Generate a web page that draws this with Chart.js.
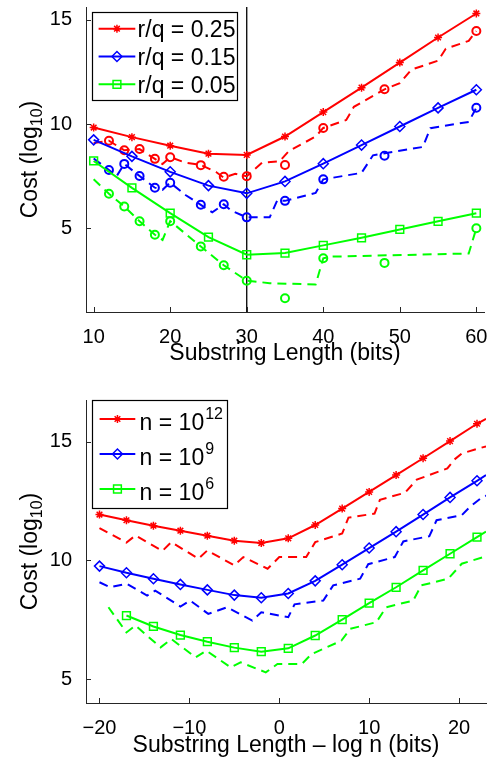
<!DOCTYPE html>
<html>
<head>
<meta charset="utf-8">
<script src="https://cdn.jsdelivr.net/npm/chart.js@4.4.1/dist/chart.umd.min.js"></script>
<style>
  html, body { margin: 0; padding: 0; background: #fff; }
  .panel { position: absolute; left: 0; width: 493px; }
  #topPanel { top: 0; height: 370px; }
  #bottomPanel { top: 380px; height: 380px; }
</style>
</head>
<body>
<div class="panel" id="topPanel"><canvas id="topChart"></canvas></div>
<div class="panel" id="bottomPanel"><canvas id="bottomChart"></canvas></div>
<script>
// ---- top panel: cost vs substring length, three r/q ratios ----
const lenX = [10, 15, 20, 25, 30, 35, 40, 45, 50, 55, 60]
const model25 = [9.83, 9.37, 8.96, 8.58, 8.52, 9.40, 10.57, 11.74, 12.94, 14.14, 15.29]
const model15 = [9.24, 8.45, 7.71, 7.05, 6.68, 7.25, 8.10, 8.99, 9.88, 10.77, 11.64]
const model05 = [8.23, 6.94, 5.73, 4.58, 3.74, 3.82, 4.19, 4.55, 4.95, 5.34, 5.73]

const simX = [12, 14, 16, 18, 20, 24, 27, 30, 35, 40, 48, 60]
const sim25 = [9.2, 8.74, 8.8, 8.33, 8.41, 8.03, 7.47, 7.5, 8.04, 9.81, 11.66, 14.45]
const sim15 = [7.8, 8.09, 7.51, 6.95, 7.19, 6.13, 6.16, 5.53, 6.32, 7.35, 8.48, 10.78]
const sim05 = [6.66, 6.05, 5.34, 4.7, 5.35, 4.14, 3.24, 2.5, 1.66, 3.57, 3.35, 5.01]

const best25X = [10, 12, 14, 16, 18, 19, 20, 22, 24, 26, 27, 28.5, 30, 32, 34.3, 35.5, 39, 40, 43, 44, 48, 50, 51.5, 55, 56, 59, 60]
const best25Y = [9.09, 9.2, 8.74, 8.8, 8.33, 8.08, 8.41, 8.15, 8.04, 7.7, 7.43, 7.62, 7.5, 8.15, 8.22, 8.7, 9.4, 9.81, 10.19, 10.82, 11.66, 11.95, 12.6, 13.03, 13.6, 13.98, 14.45]
const best15X = [10, 12, 13, 14, 16, 18, 19, 20, 22, 24, 25.5, 27, 28, 30, 33, 34, 35, 39, 40, 45, 46.5, 53, 54, 59, 60]
const best15Y = [8.35, 7.8, 7.5, 8.09, 7.51, 6.95, 6.85, 7.19, 6.6, 6.13, 5.77, 6.16, 5.85, 5.53, 5.53, 6.35, 6.32, 6.7, 7.35, 7.66, 8.5, 8.9, 9.8, 10.1, 10.78]
const best05X = [10, 12, 14, 16, 18, 19, 20, 24, 27, 30, 33, 39, 40, 41, 59, 60]
const best05Y = [7.35, 6.66, 6.05, 5.34, 4.7, 4.45, 5.35, 4.14, 3.24, 2.5, 2.38, 2.32, 3.57, 3.65, 3.8, 5.01]

const topXTicks = [10, 20, 30, 40, 50, 60]
const topYTicks = [5, 10, 15]
const topXRange = [9, 61]
const topYRange = [1, 15.6]
const splitLen = 30
const topLegend = ['r/q = 0.25', 'r/q = 0.15', 'r/q = 0.05']

// ---- bottom panel: cost vs substring length - log n, three n ----
const offX = [-20, -17, -14, -11, -8, -5, -2, 1, 4, 7, 10, 13, 16, 19, 22, 23]
const modelN12 = [11.93, 11.69, 11.46, 11.25, 11.04, 10.83, 10.73, 10.93, 11.49, 12.18, 12.88, 13.59, 14.30, 15.02, 15.75, 15.96]
const modelN9 = [9.76, 9.48, 9.23, 8.99, 8.76, 8.54, 8.43, 8.61, 9.14, 9.82, 10.52, 11.21, 11.93, 12.65, 13.35, 13.59]
const offX6 = [-17, -14, -11, -8, -5, -2, 1, 4, 7, 10, 13, 16, 19, 22, 23]
const modelN6 = [7.68, 7.22, 6.86, 6.58, 6.33, 6.16, 6.30, 6.84, 7.51, 8.20, 8.87, 9.58, 10.28, 10.98, 11.21]

const bestN12X = [-20, -17, -16, -13, -12, -9, -8, -5, -4, -1.3, 0, 3, 4, 7, 7.7, 10.6, 11.2, 14, 15.3, 18.7, 19.5, 20.3, 23]
const bestN12Y = [11.36, 10.75, 11.05, 10.4, 10.77, 10.07, 10.42, 9.79, 10.14, 9.65, 10.14, 10.14, 10.77, 11.13, 11.8, 11.97, 12.55, 12.85, 13.4, 13.87, 14.25, 14.5, 14.8]
const bestN9X = [-20, -18.8, -17, -14.7, -13.8, -11, -9.9, -7.9, -5.8, -3, -2, 1, 1.7, 4.9, 6, 9, 9.9, 12.85, 13.8, 16.7, 17.5, 20.3, 21.2, 22.6, 23]
const bestN9Y = [9.08, 8.87, 9.02, 8.52, 8.73, 8.06, 8.31, 7.75, 8.03, 7.47, 7.82, 7.61, 8.15, 8.31, 8.95, 9.23, 9.84, 10.14, 10.8, 11.02, 11.69, 11.9, 12.25, 12.67, 12.72]
const bestN6X = [-19, -17, -16, -13.2, -12, -9.3, -8.1, -5.4, -4.3, -1.5, -0.2, 2.5, 3.6, 6.9, 7.9, 10.8, 11.9, 14.9, 15.8, 18.8, 20.3, 22.7, 23]
const bestN6Y = [8.03, 6.97, 7.26, 6.34, 6.69, 5.92, 6.2, 5.5, 5.71, 5.29, 5.64, 5.64, 6.06, 6.62, 7.12, 7.4, 8.03, 8.31, 8.95, 9.23, 9.86, 10.14, 10.17]

const botXTicks = [-20, -10, 0, 10, 20]
const botYTicks = [5, 10, 15]
const botXRange = [-21.5, 23]
const botYRange = [4, 16.75]
const botLegend = [['n = 10', '12'], ['n = 10', '9'], ['n = 10', '6']]

const FONT = "'Liberation Sans', Arial, Helvetica, sans-serif"
const AXIS = '#262626'
const RED = '#ff0000'
const BLUE = '#0000ff'
const GREEN = '#00ff00'
const NONE = 'rgba(0,0,0,0)'

Chart.defaults.font.family = FONT
Chart.defaults.color = '#000'

const pts = (xs, ys) => xs.map((x, i) => ({ x, y: ys[i] }))

// markers hidden at the clipped edge point
const edgeRadius = (r, edge) => (c) => (c.raw && c.raw.x >= edge ? 0 : r)

const solid = (data, color, style, radius, edge) => ({
  data,
  borderColor: color,
  backgroundColor: NONE,
  borderWidth: 2,
  pointStyle: style,
  pointRadius: edge === undefined ? radius : edgeRadius(radius, edge),
  pointBorderWidth: 1.5,
  pointBorderColor: color,
  pointBackgroundColor: NONE,
  pointHoverRadius: 0,
})

const dashed = (data, color) => ({
  data,
  borderColor: color,
  borderWidth: 2,
  borderDash: [9, 6],
  pointRadius: 0,
  pointHoverRadius: 0,
})

const circles = (data, color) => ({
  data,
  showLine: false,
  borderColor: color,
  pointStyle: 'circle',
  pointRadius: 4,
  pointBorderWidth: 2,
  pointBorderColor: color,
  pointBackgroundColor: NONE,
  pointHoverRadius: 0,
})

// small tick marks pointing into the plot, MATLAB style
const inwardTicks = {
  id: 'inwardTicks',
  afterDraw(chart) {
    const { ctx, chartArea: a, scales: { x, y } } = chart
    ctx.save()
    ctx.strokeStyle = AXIS
    ctx.lineWidth = 1
    ctx.beginPath()
    x.ticks.forEach((t) => {
      const px = Math.round(x.getPixelForValue(t.value)) + 0.5
      ctx.moveTo(px, a.bottom)
      ctx.lineTo(px, a.bottom - 5)
    })
    y.ticks.forEach((t) => {
      const py = Math.round(y.getPixelForValue(t.value)) + 0.5
      ctx.moveTo(a.left, py)
      ctx.lineTo(a.left + 5, py)
    })
    ctx.stroke()
    ctx.restore()
  },
}

// rotated y title with a subscript
const yTitle = {
  id: 'yTitle',
  afterDraw(chart, args, o) {
    if (!o.text) return
    const { ctx, chartArea: a } = chart
    ctx.save()
    ctx.translate(o.x, (a.top + a.bottom) / 2)
    ctx.rotate(-Math.PI / 2)
    ctx.fillStyle = '#000'
    ctx.textBaseline = 'alphabetic'
    ctx.font = `23px ${FONT}`
    const w1 = ctx.measureText(o.text).width
    const w3 = ctx.measureText(o.tail).width
    ctx.font = `16px ${FONT}`
    const w2 = ctx.measureText(o.sub).width
    const start = -(w1 + w2 + w3) / 2
    ctx.fillText(o.sub, start + w1, 5)
    ctx.font = `23px ${FONT}`
    ctx.fillText(o.text, start, 0)
    ctx.fillText(o.tail, start + w1 + w2, 0)
    ctx.restore()
  },
}

// boxed legend in the upper left corner
const boxLegend = {
  id: 'boxLegend',
  afterDatasetsDraw(chart, args, o) {
    if (!o.items) return
    const { ctx, chartArea: a } = chart
    const left = Math.round(a.left + o.dx)
    const top = Math.round(a.top + o.dy)
    ctx.save()
    ctx.fillStyle = '#fff'
    ctx.fillRect(left, top, o.w, o.h)
    ctx.strokeStyle = '#000'
    ctx.lineWidth = 1.2
    ctx.strokeRect(left + 0.5, top + 0.5, o.w, o.h)
    o.items.forEach((it, i) => {
      const cy = top + o.firstRow + i * o.rowGap
      ctx.strokeStyle = it.color
      ctx.lineWidth = 2
      ctx.beginPath()
      ctx.moveTo(left + o.lineX0, cy)
      ctx.lineTo(left + o.lineX1, cy)
      ctx.stroke()
      ctx.fillStyle = NONE
      ctx.lineWidth = 1.5
      Chart.helpers.drawPoint(ctx, { pointStyle: it.style, radius: it.radius, borderWidth: 1.5, rotation: 0 },
        left + (o.lineX0 + o.lineX1) / 2, cy)
      ctx.fillStyle = '#000'
      ctx.textBaseline = 'alphabetic'
      ctx.font = `23px ${FONT}`
      ctx.fillText(it.text, left + o.textX, cy + o.baseShift)
      if (it.sup) {
        const w = ctx.measureText(it.text).width
        ctx.font = `16px ${FONT}`
        ctx.fillText(it.sup, left + o.textX + w + 1, cy + o.baseShift - 11)
      }
    })
    ctx.restore()
  },
}

const fixAxis = (size, horizontal) => (scale) => {
  if (horizontal) scale.height = size
  else scale.width = size
  scale.paddingTop = 0
  scale.paddingBottom = 0
  scale.paddingLeft = 0
  scale.paddingRight = 0
}

const minusLabel = (v) => (v < 0 ? '\u2212' + Math.abs(v) : String(v))

function makeOptions(cfg) {
  return {
    responsive: true,
    maintainAspectRatio: false,
    animation: false,
    events: [],
    layout: { padding: cfg.padding },
    plugins: {
      legend: { display: false },
      tooltip: { enabled: false },
      yTitle: { text: 'Cost (log', sub: '10', tail: ')', x: 37 },
      boxLegend: cfg.legend,
    },
    scales: {
      x: {
        type: 'linear',
        min: cfg.xRange[0],
        max: cfg.xRange[1],
        afterBuildTicks: (s) => { s.ticks = cfg.xTicks.map((v) => ({ value: v })) },
        afterFit: fixAxis(cfg.xHeight, true),
        grid: { display: false },
        border: { display: true, color: AXIS, width: 1 },
        ticks: { autoSkip: false, maxRotation: 0, padding: 5, font: { size: 20 }, color: '#000', callback: minusLabel },
        title: { display: true, text: cfg.xTitle, font: { size: 23 }, color: '#000', padding: { top: 0, bottom: cfg.titlePad } },
      },
      y: {
        type: 'linear',
        min: cfg.yRange[0],
        max: cfg.yRange[1],
        afterBuildTicks: (s) => { s.ticks = cfg.yTicks.map((v) => ({ value: v })) },
        afterFit: fixAxis(86, false),
        grid: { display: false },
        border: { display: true, color: AXIS, width: 1 },
        ticks: { autoSkip: false, padding: 6, font: { size: 20 }, color: '#000' },
      },
    },
  }
}

new Chart(document.getElementById('topChart'), {
  type: 'line',
  data: {
    datasets: [
      solid(pts(lenX, model25), RED, 'star', 4),
      solid(pts(lenX, model15), BLUE, 'rectRot', 5),
      solid(pts(lenX, model05), GREEN, 'rect', 5.5),
      dashed(pts(best25X, best25Y), RED),
      dashed(pts(best15X, best15Y), BLUE),
      dashed(pts(best05X, best05Y), GREEN),
      circles(pts(simX, sim25), RED),
      circles(pts(simX, sim15), BLUE),
      circles(pts(simX, sim05), GREEN),
      { data: pts([splitLen, splitLen], topYRange), borderColor: '#000', borderWidth: 1.3, pointRadius: 0 },
    ],
  },
  options: makeOptions({
    padding: { top: 3, right: 9, left: 0, bottom: 0 },
    xRange: topXRange, yRange: topYRange, xTicks: topXTicks, yTicks: topYTicks,
    xHeight: 58, titlePad: 3,
    xTitle: 'Substring Length (bits)',
    legend: {
      dx: 5.7, dy: 5.3, w: 145, h: 88, firstRow: 16.7, rowGap: 27.8,
      lineX0: 6.6, lineX1: 43.3, textX: 45.6, baseShift: 8.3,
      items: [
        { text: topLegend[0], color: RED, style: 'star', radius: 4 },
        { text: topLegend[1], color: BLUE, style: 'rectRot', radius: 5 },
        { text: topLegend[2], color: GREEN, style: 'rect', radius: 5.5 },
      ],
    },
  }),
  plugins: [inwardTicks, yTitle, boxLegend],
})

new Chart(document.getElementById('bottomChart'), {
  type: 'line',
  data: {
    datasets: [
      solid(pts(offX, modelN12), RED, 'star', 4, 23),
      solid(pts(offX, modelN9), BLUE, 'rectRot', 5, 23),
      solid(pts(offX6, modelN6), GREEN, 'rect', 5.5, 23),
      dashed(pts(bestN12X, bestN12Y), RED),
      dashed(pts(bestN9X, bestN9Y), BLUE),
      dashed(pts(bestN6X, bestN6Y), GREEN),
    ],
  },
  options: makeOptions({
    padding: { top: 20, right: 7, left: 0, bottom: 0 },
    xRange: botXRange, yRange: botYRange, xTicks: botXTicks, yTicks: botYTicks,
    xHeight: 57, titlePad: 1,
    xTitle: 'Substring Length \u2013 log n (bits)',
    legend: {
      dx: 5.7, dy: 0, w: 135, h: 108, firstRow: 19, rowGap: 35,
      lineX0: 7.6, lineX1: 43.3, textX: 47.6, baseShift: 11,
      items: [
        { text: botLegend[0][0], sup: botLegend[0][1], color: RED, style: 'star', radius: 4 },
        { text: botLegend[1][0], sup: botLegend[1][1], color: BLUE, style: 'rectRot', radius: 5 },
        { text: botLegend[2][0], sup: botLegend[2][1], color: GREEN, style: 'rect', radius: 5.5 },
      ],
    },
  }),
  plugins: [inwardTicks, yTitle, boxLegend],
})
</script>
</body>
</html>
